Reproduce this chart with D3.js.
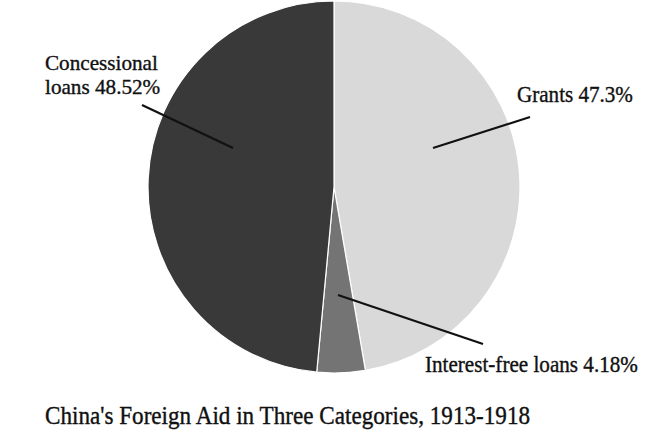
<!DOCTYPE html>
<html>
<head>
<meta charset="utf-8">
<script src="https://cdn.jsdelivr.net/npm/d3@7/dist/d3.min.js"></script>
<style>
  html, body { margin: 0; padding: 0; background: #ffffff; }
  svg { display: block; }
  text { font-family: "Liberation Serif", "Times New Roman", Times, serif; fill: #111; stroke: #111; stroke-width: 0.35px; }
</style>
</head>
<body>
<svg id="chart" width="660" height="448"></svg>
<script>
// ---- data ----
const categories = ["Grants", "Interest-free loans", "Concessional loans"];
const shares = [47.3, 4.18, 48.52];
const labelLines = [["Grants 47.3%"], ["Interest-free loans 4.18%"], ["Concessional", "loans 48.52%"]];
const sliceColors = ["#d9d9d9", "#747474", "#393939"];
const title = "China's Foreign Aid in Three Categories, 1913-1918";

// ---- layout ----
const W = 660, H = 448;
const cx = 334, cy = 187, R = 186;
const labelLayout = [
  { x: 517, y: 102, w: 116, sy: 1.07, lead: [[99, -39], [196, -70]] },
  { x: 425, y: 372, w: 213, sy: 1.07, lead: [[4, 108], [149, 157]] },
  { x: 45, y: 70, w: 113, sy: 1, lh: 23.8, lead: [[-101, -39], [-192, -82]] }
];

const svg = d3.select("#chart");
const data = categories.map((c, i) => ({ name: c, value: shares[i], color: sliceColors[i], lines: labelLines[i], lay: labelLayout[i] }));

const pie = d3.pie().value(d => d.value).sort(null);
const arc = d3.arc().innerRadius(0).outerRadius(R);

const g = svg.append("g").attr("transform", `translate(${cx},${cy})`);
g.selectAll("path.slice")
  .data(pie(data))
  .join("path")
  .attr("class", "slice")
  .attr("d", arc)
  .attr("fill", d => d.data.color)
  .attr("stroke", "#ffffff")
  .attr("stroke-width", 1.2);

g.selectAll("line.leader")
  .data(data)
  .join("line")
  .attr("class", "leader")
  .attr("x1", d => d.lay.lead[0][0])
  .attr("y1", d => d.lay.lead[0][1])
  .attr("x2", d => d.lay.lead[1][0])
  .attr("y2", d => d.lay.lead[1][1])
  .attr("stroke", "#111")
  .attr("stroke-width", 2.2);

function fitSize(sel, targetW, base) {
  sel.attr("font-size", base);
  const w = sel.node().getComputedTextLength();
  const s = base * targetW / w;
  sel.attr("font-size", s);
  return s;
}

data.forEach(d => {
  const widest = d.lines.reduce((a, b) => a.length >= b.length ? a : b);
  const probe = svg.append("text").text(widest);
  const size = fitSize(probe, d.lay.w, 20);
  probe.remove();
  d.lines.forEach((ln, j) => {
    svg.append("text")
      .attr("transform", `translate(${d.lay.x},${d.lay.y + j * (d.lay.lh || 0)}) scale(1,${d.lay.sy})`)
      .attr("font-size", size)
      .text(ln);
  });
});

const t = svg.append("text")
  .attr("transform", "translate(45,424) scale(1,1.12)")
  .text(title);
fitSize(t, 485, 22);
</script>
</body>
</html>
